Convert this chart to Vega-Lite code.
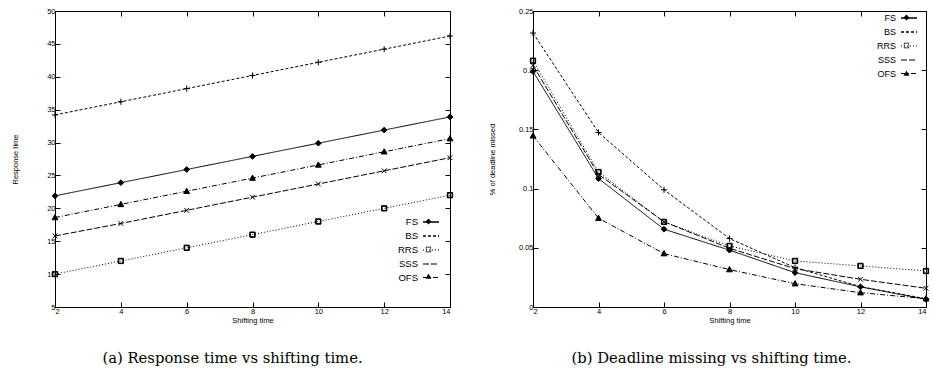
{
  "$schema": "https://vega.github.io/schema/vega-lite/v6.json",
  "background": "white",
  "padding": {"left": 11, "top": 6, "right": 0, "bottom": 0},
  "bounds": "flush",
  "spacing": 83,
  "resolve": {
    "scale": {"strokeDash": "independent", "shape": "independent", "strokeWidth": "independent"},
    "legend": {"strokeDash": "independent", "shape": "independent"}
  },
  "datasets": {
    "resp": [
      {"shift": 2, "series": "FS", "value": 21.9}, {"shift": 4, "series": "FS", "value": 23.9}, {"shift": 6, "series": "FS", "value": 25.9}, {"shift": 8, "series": "FS", "value": 27.9}, {"shift": 10, "series": "FS", "value": 29.9}, {"shift": 12, "series": "FS", "value": 31.9}, {"shift": 14, "series": "FS", "value": 33.9},
      {"shift": 2, "series": "BS", "value": 34.2}, {"shift": 4, "series": "BS", "value": 36.2}, {"shift": 6, "series": "BS", "value": 38.2}, {"shift": 8, "series": "BS", "value": 40.2}, {"shift": 10, "series": "BS", "value": 42.2}, {"shift": 12, "series": "BS", "value": 44.2}, {"shift": 14, "series": "BS", "value": 46.2},
      {"shift": 2, "series": "RRS", "value": 10.0}, {"shift": 4, "series": "RRS", "value": 12.0}, {"shift": 6, "series": "RRS", "value": 14.0}, {"shift": 8, "series": "RRS", "value": 16.0}, {"shift": 10, "series": "RRS", "value": 18.0}, {"shift": 12, "series": "RRS", "value": 20.0}, {"shift": 14, "series": "RRS", "value": 22.0},
      {"shift": 2, "series": "SSS", "value": 15.8}, {"shift": 4, "series": "SSS", "value": 17.7}, {"shift": 6, "series": "SSS", "value": 19.7}, {"shift": 8, "series": "SSS", "value": 21.7}, {"shift": 10, "series": "SSS", "value": 23.7}, {"shift": 12, "series": "SSS", "value": 25.7}, {"shift": 14, "series": "SSS", "value": 27.7},
      {"shift": 2, "series": "OFS", "value": 18.6}, {"shift": 4, "series": "OFS", "value": 20.6}, {"shift": 6, "series": "OFS", "value": 22.6}, {"shift": 8, "series": "OFS", "value": 24.6}, {"shift": 10, "series": "OFS", "value": 26.6}, {"shift": 12, "series": "OFS", "value": 28.6}, {"shift": 14, "series": "OFS", "value": 30.6}
    ],
    "miss": [
      {"shift": 2, "series": "FS", "value": 0.199}, {"shift": 4, "series": "FS", "value": 0.1085}, {"shift": 6, "series": "FS", "value": 0.0657}, {"shift": 8, "series": "FS", "value": 0.048}, {"shift": 10, "series": "FS", "value": 0.029}, {"shift": 12, "series": "FS", "value": 0.017}, {"shift": 14, "series": "FS", "value": 0.0065},
      {"shift": 2, "series": "BS", "value": 0.2314}, {"shift": 4, "series": "BS", "value": 0.1474}, {"shift": 6, "series": "BS", "value": 0.099}, {"shift": 8, "series": "BS", "value": 0.0578}, {"shift": 10, "series": "BS", "value": 0.0333}, {"shift": 12, "series": "BS", "value": 0.0172}, {"shift": 14, "series": "BS", "value": 0.007},
      {"shift": 2, "series": "RRS", "value": 0.208}, {"shift": 4, "series": "RRS", "value": 0.114}, {"shift": 6, "series": "RRS", "value": 0.0719}, {"shift": 8, "series": "RRS", "value": 0.0516}, {"shift": 10, "series": "RRS", "value": 0.0389}, {"shift": 12, "series": "RRS", "value": 0.0347}, {"shift": 14, "series": "RRS", "value": 0.0304},
      {"shift": 2, "series": "SSS", "value": 0.204}, {"shift": 4, "series": "SSS", "value": 0.112}, {"shift": 6, "series": "SSS", "value": 0.072}, {"shift": 8, "series": "SSS", "value": 0.0496}, {"shift": 10, "series": "SSS", "value": 0.0324}, {"shift": 12, "series": "SSS", "value": 0.0234}, {"shift": 14, "series": "SSS", "value": 0.0158},
      {"shift": 2, "series": "OFS", "value": 0.1446}, {"shift": 4, "series": "OFS", "value": 0.075}, {"shift": 6, "series": "OFS", "value": 0.0451}, {"shift": 8, "series": "OFS", "value": 0.0316}, {"shift": 10, "series": "OFS", "value": 0.0197}, {"shift": 12, "series": "OFS", "value": 0.0121}, {"shift": 14, "series": "OFS", "value": 0.007}
    ]
  },
  "config": {
    "view": {"stroke": "black", "strokeWidth": 1},
    "axis": {
      "domain": false, "grid": false,
      "tickColor": "black", "tickSize": -5, "tickWidth": 1,
      "labelFont": "Liberation Sans", "labelFontSize": 7.5, "labelColor": "black",
      "labelPadding": 5,
      "titleFont": "Liberation Sans", "titleFontSize": 7.5, "titleFontWeight": "normal", "titleColor": "black"
    },
    "legend": {
      "title": null, "orient": "none", "padding": 0, "rowPadding": 0,
      "labelFont": "Liberation Sans", "labelFontSize": 9.5, "labelColor": "black",
      "symbolStrokeColor": "black", "symbolStrokeWidth": 1
    },
    "title": {"font": "DejaVu Serif", "fontSize": 14.8, "fontWeight": "normal", "color": "black", "orient": "bottom", "anchor": "middle"}
  },
  "hconcat": [
    {
      "width": 395, "height": 296,
      "data": {"name": "resp"},
      "title": {"text": "(a) Response time vs shifting time.", "dx": -20, "offset": 27},
      "layer": [
        {
          "mark": {"type": "line", "color": "black", "strokeWidth": 1},
          "encoding": {
            "x": {"field": "shift", "type": "quantitative", "title": "Shifting time",
                  "scale": {"domain": [2, 14], "nice": false},
                  "axis": {"orient": "bottom", "values": [2, 4, 6, 8, 10, 12, 14], "titlePadding": 2}},
            "y": {"field": "value", "type": "quantitative", "title": "Response time",
                  "scale": {"domain": [5, 50], "nice": false, "zero": false},
                  "axis": {"orient": "left", "values": [5, 10, 15, 20, 25, 30, 35, 40, 45, 50], "titlePadding": 27}},
            "strokeDash": {"field": "series", "type": "nominal",
                  "scale": {"domain": ["FS", "BS", "RRS", "SSS", "OFS"], "range": [[1, 0], [3, 2], [1, 2], [6, 2], [5, 2, 1, 2]]},
                  "legend": {"orient": "none", "legendX": 367, "legendY": 202, "symbolType": "stroke", "symbolSize": 256, "labelAlign": "right", "labelOffset": -22}},
            "strokeWidth": {"field": "series", "type": "nominal", "legend": null,
                  "scale": {"domain": ["FS", "BS", "RRS", "SSS", "OFS"], "range": [1.4, 1, 1, 0.8, 1]}}
          }
        },
        {
          "mark": {"type": "point", "filled": true, "fill": "black", "stroke": "black", "strokeWidth": 1, "opacity": 1, "clip": false},
          "encoding": {
            "x": {"field": "shift", "type": "quantitative", "axis": {"orient": "top", "labels": false, "title": null, "values": [2, 4, 6, 8, 10, 12, 14]}},
            "y": {"field": "value", "type": "quantitative", "axis": {"orient": "right", "labels": false, "title": null, "values": [5, 10, 15, 20, 25, 30, 35, 40, 45, 50]}},
            "shape": {"field": "series", "type": "nominal", "sort": ["FS", "BS", "RRS", "SSS", "OFS"],
                  "scale": {"range": ["M0,-0.36L0.36,0L0,0.36L-0.36,0Z", "M-0.38,0H0.38M0,-0.38V0.38", "M-0.33,-0.33H0.33V0.33H-0.33Z M-0.26,-0.26V0.26H0.26V-0.26Z", "M-0.3,-0.3L0.3,0.3M-0.3,0.3L0.3,-0.3", "M0,-0.38L0.36,0.28H-0.36Z"]},
                  "legend": {"orient": "none", "legendX": 367, "legendY": 202, "symbolSize": 256, "symbolOffset": -2, "symbolFillColor": "black",
                             "labelOpacity": 0, "labelAlign": "right", "labelOffset": -22}},
            "size": {"value": 256}
          }
        }
      ],
      "resolve": {"axis": {"x": "independent", "y": "independent"}}
    },
    {
      "width": 393, "height": 296,
      "data": {"name": "miss"},
      "title": {"text": "(b) Deadline missing vs shifting time.", "dx": -18, "offset": 27},
      "layer": [
        {
          "mark": {"type": "line", "color": "black", "strokeWidth": 1},
          "encoding": {
            "x": {"field": "shift", "type": "quantitative", "title": "Shifting time",
                  "scale": {"domain": [2, 14], "nice": false},
                  "axis": {"orient": "bottom", "values": [2, 4, 6, 8, 10, 12, 14], "titlePadding": 2}},
            "y": {"field": "value", "type": "quantitative", "title": "% of deadline missed",
                  "scale": {"domain": [0, 0.25], "nice": false},
                  "axis": {"orient": "left", "values": [0, 0.05, 0.1, 0.15, 0.2, 0.25], "format": "~g", "titlePadding": 22}},
            "strokeDash": {"field": "series", "type": "nominal",
                  "scale": {"domain": ["FS", "BS", "RRS", "SSS", "OFS"], "range": [[1, 0], [3, 2], [1, 2], [6, 2], [5, 2, 1, 2]]},
                  "legend": {"orient": "none", "legendX": 367, "legendY": -2, "symbolType": "stroke", "symbolSize": 256, "labelAlign": "right", "labelOffset": -22, "labelFontSize": 9}},
            "strokeWidth": {"field": "series", "type": "nominal", "legend": null,
                  "scale": {"domain": ["FS", "BS", "RRS", "SSS", "OFS"], "range": [1.4, 1, 1, 0.8, 1]}}
          }
        },
        {
          "mark": {"type": "point", "filled": true, "fill": "black", "stroke": "black", "strokeWidth": 1, "opacity": 1, "clip": false},
          "encoding": {
            "x": {"field": "shift", "type": "quantitative", "axis": {"orient": "top", "labels": false, "title": null, "values": [2, 4, 6, 8, 10, 12, 14]}},
            "y": {"field": "value", "type": "quantitative", "axis": {"orient": "right", "labels": false, "title": null, "values": [0, 0.05, 0.1, 0.15, 0.2, 0.25]}},
            "shape": {"field": "series", "type": "nominal", "sort": ["FS", "BS", "RRS", "SSS", "OFS"],
                  "scale": {"range": ["M0,-0.36L0.36,0L0,0.36L-0.36,0Z", "M-0.38,0H0.38M0,-0.38V0.38", "M-0.33,-0.33H0.33V0.33H-0.33Z M-0.26,-0.26V0.26H0.26V-0.26Z", "M-0.3,-0.3L0.3,0.3M-0.3,0.3L0.3,-0.3", "M0,-0.38L0.36,0.28H-0.36Z"]},
                  "legend": {"orient": "none", "legendX": 367, "legendY": -2, "symbolSize": 256, "symbolOffset": -2, "symbolFillColor": "black",
                             "labelOpacity": 0, "labelAlign": "right", "labelOffset": -22, "labelFontSize": 9}},
            "size": {"value": 256}
          }
        }
      ],
      "resolve": {"axis": {"x": "independent", "y": "independent"}}
    }
  ]
}
